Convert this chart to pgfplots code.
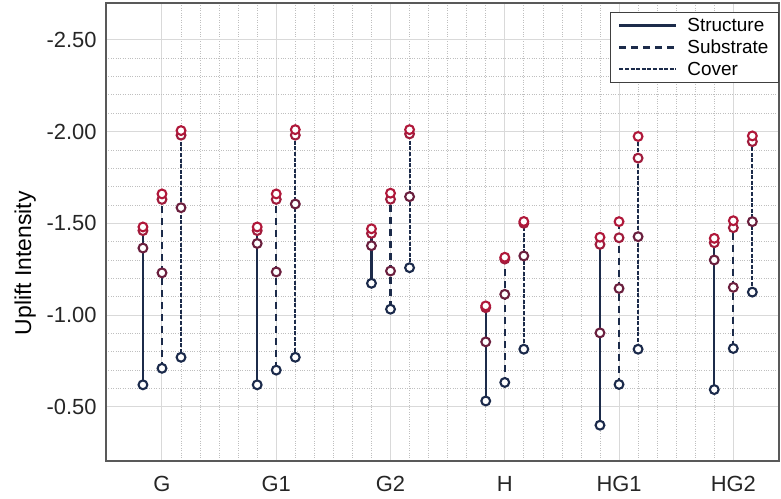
\documentclass[border=0pt]{standalone}
\usepackage{fontspec}
\setmainfont{Liberation Sans}
\usepackage{pgfplots}
\pgfplotsset{compat=1.18}
\definecolor{navy}{HTML}{1C2B4A}
\definecolor{rA}{HTML}{B0183A}
\definecolor{rB}{HTML}{A01C3C}
\definecolor{rC}{HTML}{6A1F3E}
\definecolor{rD}{HTML}{1B2A4B}
\definecolor{gridc}{HTML}{D9D9D9}
\begin{document}
\begin{tikzpicture}
\begin{axis}[
  name=ax,
  scale only axis,
  width=673bp, height=458bp,
  y dir=reverse,
  ymin=-2.7, ymax=-0.205,
  xmin=-0.49, xmax=5.4,
  xtick={0,1,2,3,4,5},
  xticklabels={G,G1,G2,H,HG1,HG2},
  ytick={-2.5,-2,-1.5,-1,-0.5},
  minor y tick num=4,
  minor x tick num=5,
  yticklabel style={/pgf/number format/fixed,/pgf/number format/fixed zerofill,/pgf/number format/precision=2, xshift=-6bp},
  /pgf/number format/assume math mode=true,
  ticklabel style={font=\fontsize{22}{26}\selectfont, text=black!85},
  xticklabel style={yshift=-12bp},
  major tick length=0pt, minor tick length=0pt,
  grid=both,
  major grid style={draw=gridc, line width=1bp},
  minor grid style={draw=black!25, dotted, line width=0.7bp},
  axis line style={draw=black!65, line width=1.2bp},
  ylabel={Uplift Intensity},
  ylabel style={font=\fontsize{23}{27}\selectfont, at={(axis description cs:-0.12,0.432)}, anchor=center, rotate=0},
  legend style={at={(axis description cs:1,0.981)}, anchor=north east, draw=black!75, line width=1bp, font=\fontsize{19}{22}\selectfont, fill=white, inner xsep=8bp, inner ysep=4bp, row sep=3bp, /tikz/column sep=8bp},
  legend cell align=left,
  legend image code/.code={\draw[#1] (0bp,0bp) -- (57bp,0bp);},
  clip=false,
]
% legend lines
\addplot[navy, line width=2.1bp] coordinates {(-0.1667,-1.48) (-0.1667,-0.62)};
\addlegendentry{Structure}
\addplot[navy, line width=2.1bp, dash pattern=on 7bp off 5bp] coordinates {(0,-1.66) (0,-0.71)};
\addlegendentry{Substrate}
\addplot[navy, line width=2.1bp, dash pattern=on 4bp off 1.6bp] coordinates {(0.1667,-2.005) (0.1667,-0.77)};
\addlegendentry{Cover}
% Structure
\addplot[forget plot, navy, line width=2.1bp] coordinates {(0.8333,-1.48) (0.8333,-0.62)};
\addplot[forget plot, navy, line width=2.1bp] coordinates {(1.8333,-1.47) (1.8333,-1.173)};
\addplot[forget plot, navy, line width=2.1bp] coordinates {(2.8333,-1.05) (2.8333,-0.532)};
\addplot[forget plot, navy, line width=2.1bp] coordinates {(3.8333,-1.424) (3.8333,-0.40)};
\addplot[forget plot, navy, line width=2.1bp] coordinates {(4.8333,-1.418) (4.8333,-0.594)};
% Substrate
\addplot[forget plot, navy, line width=2.1bp, dash pattern=on 7bp off 5bp] coordinates {(1,-1.66) (1,-0.70)};
\addplot[forget plot, navy, line width=2.1bp, dash pattern=on 7bp off 5bp] coordinates {(2,-1.664) (2,-1.032)};
\addplot[forget plot, navy, line width=2.1bp, dash pattern=on 7bp off 5bp] coordinates {(3,-1.315) (3,-0.633)};
\addplot[forget plot, navy, line width=2.1bp, dash pattern=on 7bp off 5bp] coordinates {(4,-1.509) (4,-0.622)};
\addplot[forget plot, navy, line width=2.1bp, dash pattern=on 7bp off 5bp] coordinates {(5,-1.514) (5,-0.818)};
% Cover
\addplot[forget plot, navy, line width=2.1bp, dash pattern=on 4bp off 1.6bp] coordinates {(1.1667,-2.01) (1.1667,-0.77)};
\addplot[forget plot, navy, line width=2.1bp, dash pattern=on 4bp off 1.6bp] coordinates {(2.1667,-2.01) (2.1667,-1.258)};
\addplot[forget plot, navy, line width=2.1bp, dash pattern=on 4bp off 1.6bp] coordinates {(3.1667,-1.51) (3.1667,-0.814)};
\addplot[forget plot, navy, line width=2.1bp, dash pattern=on 4bp off 1.6bp] coordinates {(4.1667,-1.973) (4.1667,-0.814)};
\addplot[forget plot, navy, line width=2.1bp, dash pattern=on 4bp off 1.6bp] coordinates {(5.1667,-1.976) (5.1667,-1.125)};
% markers: rank 4 (least negative)
\addplot[forget plot, only marks, mark=*, mark size=4.4bp, draw=rD, fill=white, line width=2.1bp] coordinates {
(-0.1667,-0.62) (0,-0.71) (0.1667,-0.77)
(0.8333,-0.62) (1,-0.70) (1.1667,-0.77)
(1.8333,-1.173) (2,-1.032) (2.1667,-1.258)
(2.8333,-0.532) (3,-0.633) (3.1667,-0.814)
(3.8333,-0.40) (4,-0.622) (4.1667,-0.814)
(4.8333,-0.594) (5,-0.818) (5.1667,-1.125)};
% rank 3
\addplot[forget plot, only marks, mark=*, mark size=4.4bp, draw=rC, fill=white, line width=2.1bp] coordinates {
(-0.1667,-1.365) (0,-1.23) (0.1667,-1.585)
(0.8333,-1.39) (1,-1.235) (1.1667,-1.605)
(1.8333,-1.378) (2,-1.24) (2.1667,-1.645)
(2.8333,-0.854) (3,-1.113) (3.1667,-1.322)
(3.8333,-0.903) (4,-1.145) (4.1667,-1.427)
(4.8333,-1.30) (5,-1.151) (5.1667,-1.509)};
% rank 2
\addplot[forget plot, only marks, mark=*, mark size=4.4bp, draw=rB, fill=white, line width=2.1bp] coordinates {
(-0.1667,-1.46) (0,-1.63) (0.1667,-1.98)
(0.8333,-1.46) (1,-1.63) (1.1667,-1.98)
(1.8333,-1.445) (2,-1.631) (2.1667,-1.987)
(2.8333,-1.04) (3,-1.305) (3.1667,-1.50)
(3.8333,-1.385) (4,-1.421) (4.1667,-1.855)
(4.8333,-1.394) (5,-1.476) (5.1667,-1.945)};
% rank 1 (most negative)
\addplot[forget plot, only marks, mark=*, mark size=4.4bp, draw=rA, fill=white, line width=2.1bp] coordinates {
(-0.1667,-1.48) (0,-1.66) (0.1667,-2.005)
(0.8333,-1.48) (1,-1.66) (1.1667,-2.01)
(1.8333,-1.47) (2,-1.664) (2.1667,-2.01)
(2.8333,-1.05) (3,-1.315) (3.1667,-1.51)
(3.8333,-1.424) (4,-1.509) (4.1667,-1.973)
(4.8333,-1.418) (5,-1.514) (5.1667,-1.976)};
\end{axis}
\path ([xshift=-106bp,yshift=-38bp]ax.south west) rectangle ([xshift=2bp,yshift=3bp]ax.north east);
\end{tikzpicture}
\end{document}
